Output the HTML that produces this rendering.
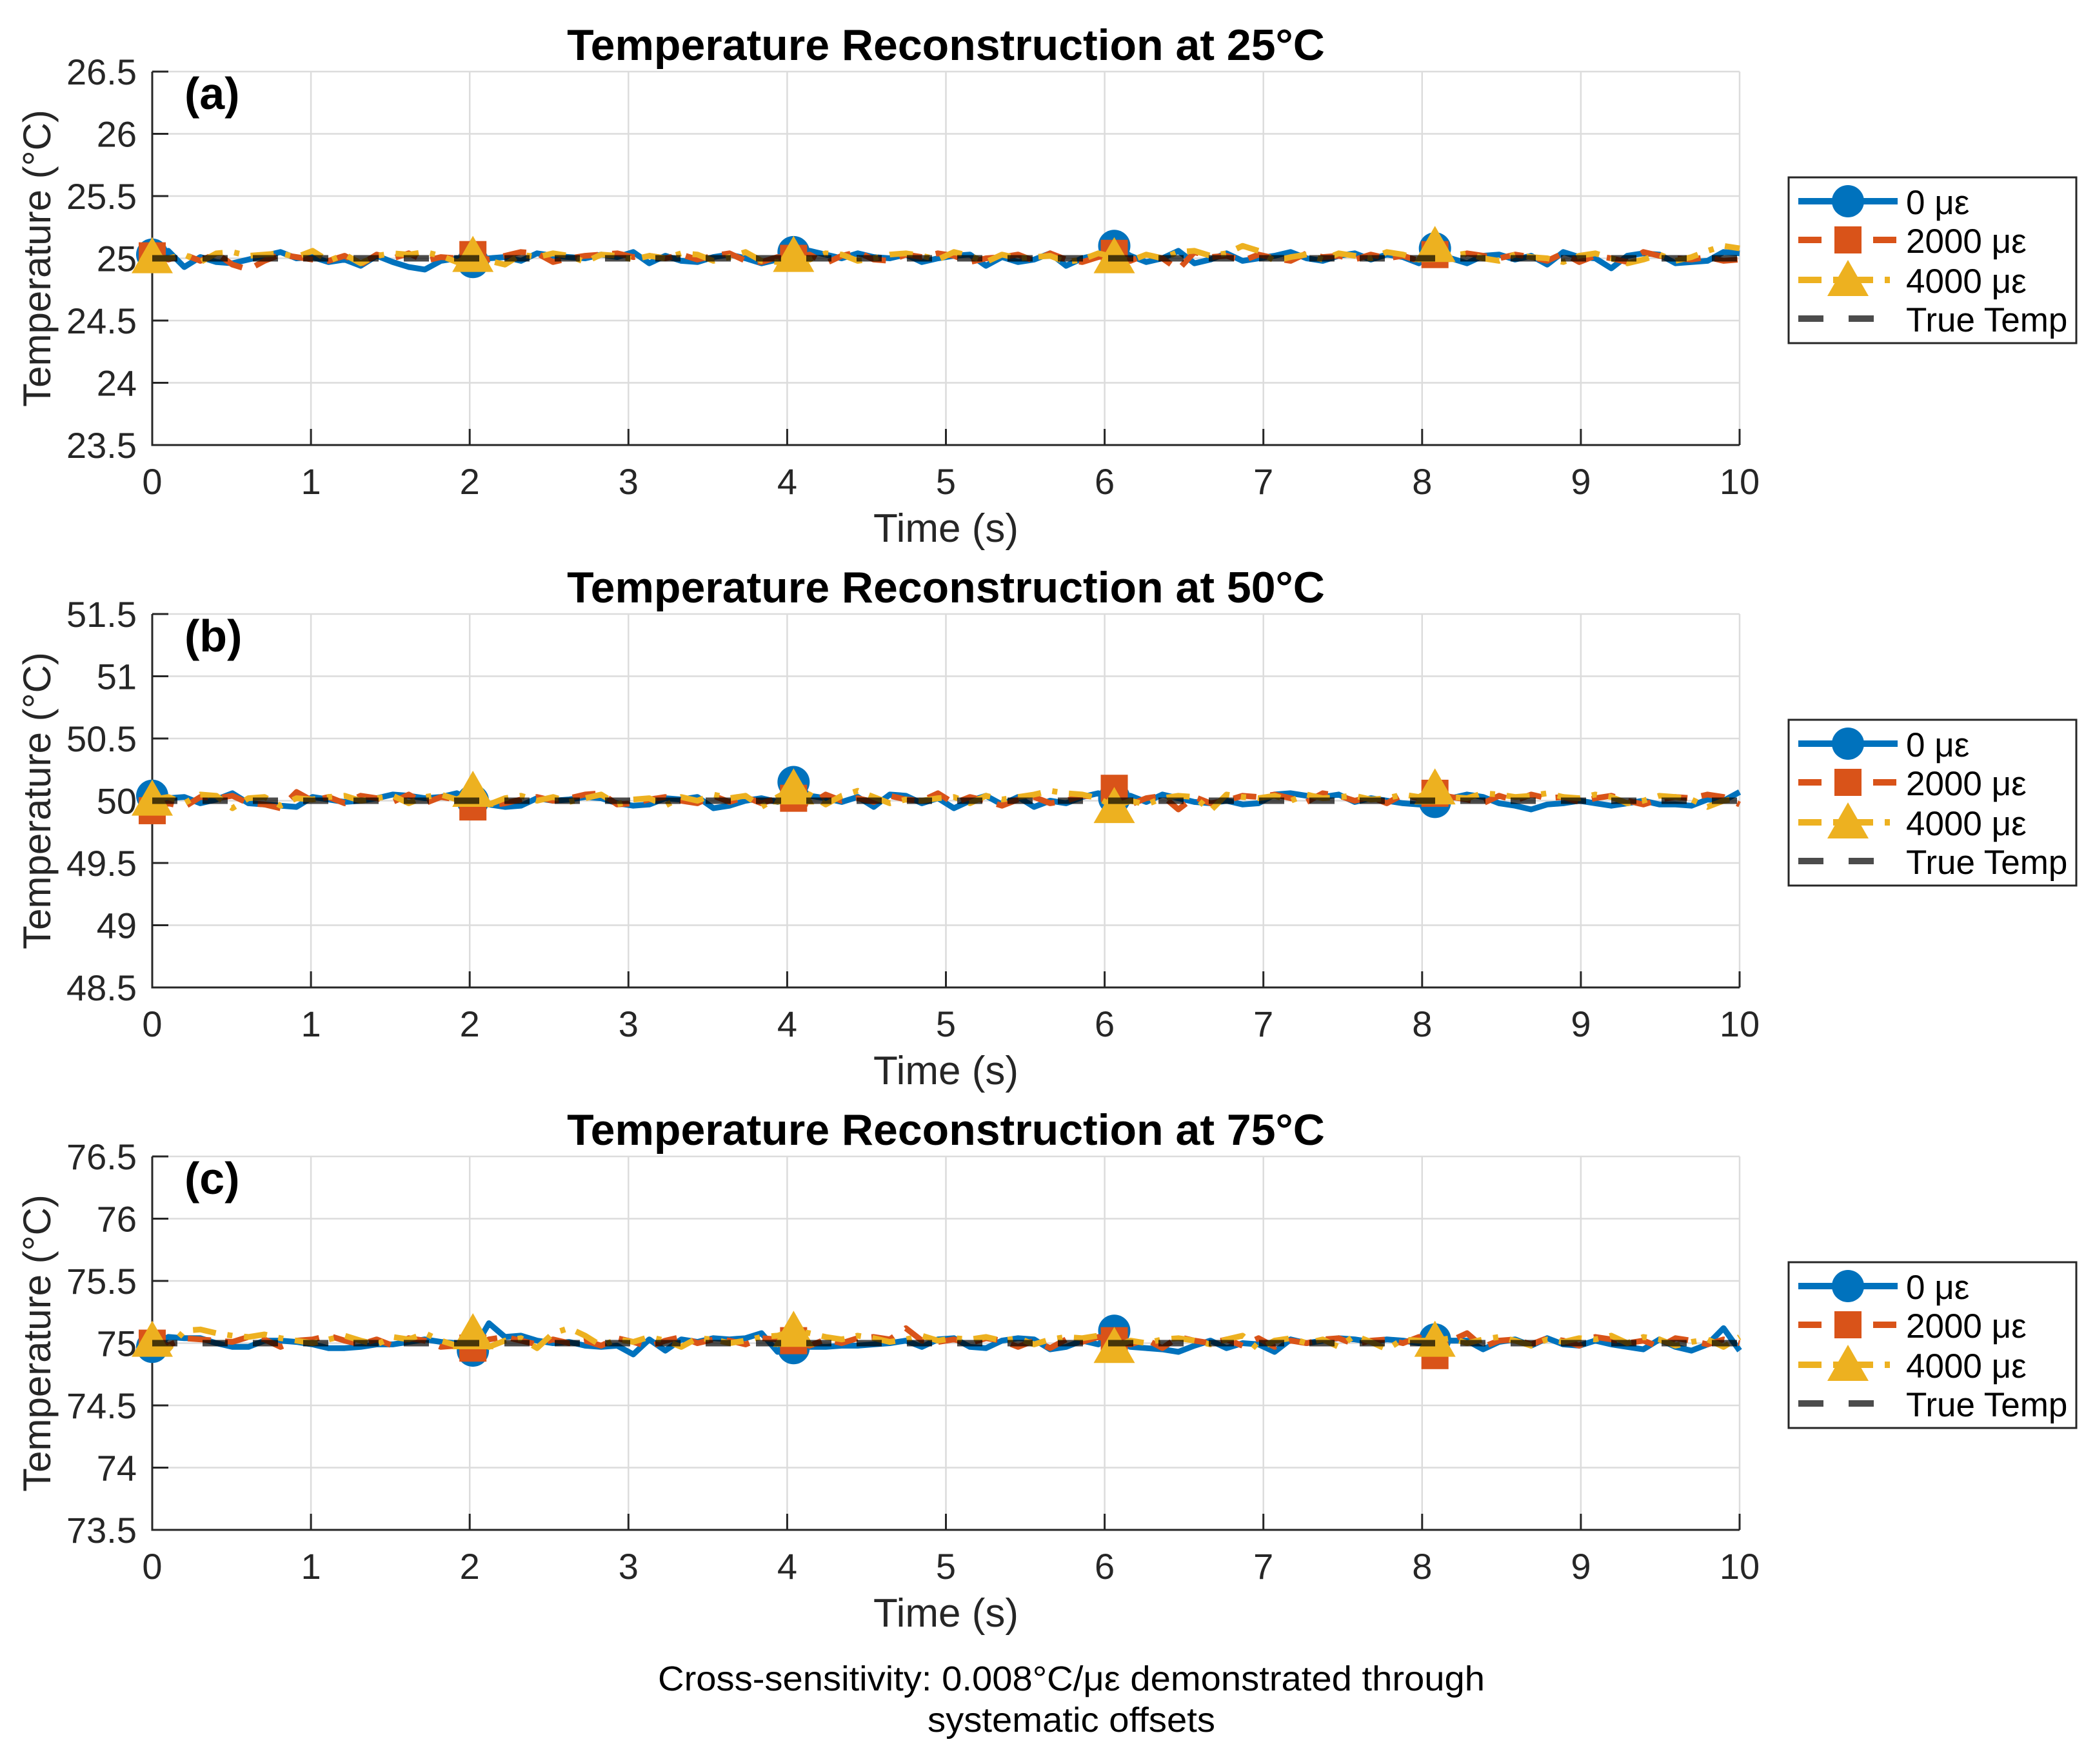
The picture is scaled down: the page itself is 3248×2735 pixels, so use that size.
<!DOCTYPE html>
<html><head><meta charset="utf-8">
<style>
html,body{margin:0;padding:0;background:#fff;}
svg{display:block;}
text{font-family:"Liberation Sans",Arial,sans-serif;}
</style></head>
<body>
<svg id="chart" width="3248" height="2735" viewBox="0 0 3248 2735" xmlns="http://www.w3.org/2000/svg">
<rect width="3248" height="2735" fill="#fff"/>
<text x="1661" y="2621" font-size="54" text-anchor="middle" fill="#000" textLength="1282" lengthAdjust="spacingAndGlyphs">Cross-sensitivity: 0.008°C/με demonstrated through</text>
<text x="1661" y="2685" font-size="54" text-anchor="middle" fill="#000" textLength="446" lengthAdjust="spacingAndGlyphs">systematic offsets</text>
</svg>
<script>
// ---- data ----
const timeStart = 0, timeEnd = 10, nPoints = 100;
const trueTemps = [25, 50, 75];
const panelLetters = ['(a)', '(b)', '(c)'];
const seriesNames = ['0 με', '2000 με', '4000 με'];
const xTicks = [0,1,2,3,4,5,6,7,8,9,10];
const yTickOffsets = [-1.5,-1,-0.5,0,0.5,1,1.5];
// measurement error vs true temperature, in hundredths of °C
const errA0 = [3,6,-7,1,-3,-4,-1,2,5,0, 1,-3,-1,-6,2,-3,-7,-9,-2,0, -3,0,1,-2,4,2,1,0,3,1, 5,-4,2,-2,-3,1,3,0,-4,-1, 5,6,3,0,4,1,0,3,-3,0, 2,3,-6,1,-3,-1,4,-6,0,3, 10,2,-3,0,6,-4,-1,4,-2,0, 2,5,0,-2,2,4,-1,3,1,-4, 8,0,-4,2,3,-1,2,-5,5,1, 0,-8,2,4,3,-4,-3,-2,5,4];
const errA1 = [2,-1,3,-2,4,-5,-9,-2,3,1, -1,-2,2,-5,3,0,4,-2,1,0, 3,-1,2,5,4,-3,0,2,3,4, 1,2,0,3,-1,2,4,-2,-3,1, 0,3,-4,2,5,-1,-2,3,1,4, 2,-3,0,1,3,-2,4,-1,-3,1, 4,-2,3,0,-9,5,1,2,-2,3, 0,-2,4,1,2,-1,3,0,2,-2, 3,-1,4,2,0,3,1,-2,4,-3, 2,0,-3,5,2,0,-1,1,-2,-1];
const errA2 = [1,0,3,-3,4,5,2,3,4,1, 6,-2,3,-4,2,4,3,5,2,-3, 2,-2,-5,3,1,4,2,-3,3,2, -1,2,0,4,3,-2,1,5,-2,-3, 2,-1,4,3,-2,0,3,4,2,-1, 5,2,-3,3,0,1,2,-3,-1,4, 1,-2,3,0,5,6,2,4,10,6, -2,1,3,-1,4,2,0,5,3,-1, 10,2,4,0,-2,3,1,0,-3,2, 4,0,-4,-1,3,-2,1,6,10,8];
const errB0 = [4,2,3,-2,1,6,-2,-3,-4,-5, 3,1,-1,0,2,5,4,2,3,6, 0,-3,-5,-4,2,0,1,3,2,-2, -4,-3,2,1,3,-6,-4,0,2,-1, 15,4,2,-1,3,-5,5,4,-2,2, -6,0,4,-3,3,-5,0,-2,3,6, 2,4,-1,5,2,-1,-2,0,-3,-2, 5,6,4,3,5,-1,2,0,-2,-3, -1,2,5,3,-2,-4,-7,-3,-2,0, -2,-4,-2,0,-3,-3,-4,1,0,7];
const errB1 = [-8,-2,-5,3,2,4,-2,-3,-6,7, 0,3,-2,4,2,-1,5,-2,3,1, -5,-4,-2,1,3,0,2,5,6,-3, -2,1,3,0,-2,4,-1,3,-2,2, 2,-3,5,0,2,-1,4,1,0,6, -2,3,0,-4,1,3,-2,0,4,3, 10,-3,2,4,-7,3,-2,0,4,3, 5,2,-1,6,4,0,3,-2,5,2, 6,3,1,-2,4,0,5,2,3,-1, 2,4,0,-3,1,3,2,5,3,-3];
const errB2 = [1,3,-2,5,4,-6,2,3,-4,2, 1,3,4,0,2,4,-2,3,5,1, 8,-3,2,4,0,3,-1,2,5,-3, 1,2,-4,3,0,5,2,4,-5,3, 10,5,-3,4,8,3,-2,1,0,2, 3,-2,4,1,3,5,8,6,5,2, -5,0,-3,2,4,3,-8,5,3,2, 4,0,5,2,3,4,1,2,5,3, 10,3,2,6,5,3,4,6,3,2, 5,3,-2,0,4,3,1,-5,0,2];
const errC0 = [-3,5,4,4,0,-3,-3,2,2,1, -1,-4,-4,-3,-1,-1,1,3,1,0, -6,16,5,6,2,0,1,-2,-3,-2, -9,3,-6,3,1,4,3,4,8,-7, -4,-3,-3,-2,-2,-1,0,2,-3,3, 4,-3,-4,2,4,3,-5,-3,2,-1, 10,-3,-4,-5,-7,-2,2,-4,0,-1, -7,3,0,2,4,3,1,3,2,0, 3,2,2,-5,1,3,-2,4,-1,-2, 2,-1,-3,-5,3,-3,-6,-1,12,-6];
const errC1 = [0,-2,4,3,2,1,5,3,-3,2, 3,6,2,-1,3,-2,4,2,-3,-2, -4,3,5,2,-1,3,0,2,-2,4, 1,-3,2,5,0,3,2,-1,4,3, 2,-2,3,0,4,5,3,12,2,1, 3,0,4,2,-3,2,-4,3,1,5, 2,-1,3,-4,5,2,0,3,-2,4, -3,2,0,3,4,-1,2,3,0,5, -10,2,8,-3,2,3,-1,4,2,-2, 5,3,0,2,-3,4,2,-1,3,0];
const errC2 = [2,-5,10,11,8,6,5,7,4,2, 0,3,6,2,-1,5,3,8,2,-2, 8,-3,2,4,-4,8,12,6,-2,3, 1,5,2,-3,4,3,0,2,5,6, 10,8,5,3,6,4,1,3,6,2, 4,3,5,2,4,-1,3,5,4,6, -3,2,0,3,4,2,-1,3,6,-5, 2,4,0,3,-3,6,1,-5,3,2, 2,4,0,3,5,2,-2,3,1,4, 3,6,0,5,3,-2,1,3,-3,5];
const panelErrors = [[errA0,errA1,errA2],[errB0,errB1,errB2],[errC0,errC1,errC2]];

// ---- layout ----
const NS = 'http://www.w3.org/2000/svg';
const svg = document.getElementById('chart');
const X0 = 236, X1 = 2697, PH = 579;
const panelTops = [111, 952, 1793];
const colors = ['#0072BD', '#D95319', '#EDB120'];
const dashes = ['none', '36 22', '36 18 8 18'];
const TXT = '#262626';
function mk(tag, attrs, parent){ const e=document.createElementNS(NS,tag); for(const k in attrs) e.setAttribute(k,attrs[k]); (parent||svg).appendChild(e); return e; }
function xScale(t){ return X0 + (t - timeStart)/(timeEnd-timeStart)*(X1-X0); }
function marker(g, k, cx, cy, c){
  let m;
  if(k===0) m = mk('circle',{cx:cx,cy:cy,r:25,fill:c},g);
  else if(k===1) m = mk('rect',{x:cx-21,y:cy-21,width:42,height:42,fill:c},g);
  else m = mk('polygon',{points:`${cx},${cy-31} ${cx+32},${cy+25} ${cx-32},${cy+25}`,fill:c},g);
  return m;
}

panelTops.forEach((top, p) => {
  const base = trueTemps[p];
  const yMin = base-1.5, yMax = base+1.5;
  const yScale = v => top + (yMax - v)/(yMax-yMin)*PH;
  const bottom = top + PH;
  const g = mk('g',{});
  
  
  xTicks.forEach(t => {
    const l = mk('line',{x1:xScale(t),x2:xScale(t),y1:top,y2:bottom,stroke:'#dcdcdc','stroke-width':2.5},g);
    
    
  });
  yTickOffsets.forEach(o => {
    const l = mk('line',{x1:X0,x2:X1,y1:yScale(base+o),y2:yScale(base+o),stroke:'#dcdcdc','stroke-width':2.5},g);
    
    
  });
  const ax = mk('path',{d:`M${X0},${top} V${bottom} H${X1}`,fill:'none',stroke:TXT,'stroke-width':3},g);
  
  
  xTicks.forEach(t => {
    mk('line',{x1:xScale(t),x2:xScale(t),y1:bottom,y2:bottom-25,stroke:TXT,'stroke-width':3},g);
    const tx = mk('text',{x:xScale(t),y:bottom+76,'font-size':56,'text-anchor':'middle',fill:TXT},g);
    tx.textContent = t;
    
    
  });
  yTickOffsets.forEach(o => {
    const v = base+o;
    mk('line',{x1:X0,x2:X0+25,y1:yScale(v),y2:yScale(v),stroke:TXT,'stroke-width':3},g);
    const tx = mk('text',{x:212,y:yScale(v)+20,'font-size':56,'text-anchor':'end',fill:TXT},g);
    tx.textContent = String(v);
    
    
  });
  const n = nPoints;
  const times = [];
  for(let i=0;i<n;i++) times.push(timeStart + i*(timeEnd-timeStart)/(n-1));
  panelErrors[p].forEach((err, k) => {
    const pts = err.map((e,i)=> `${xScale(times[i]).toFixed(1)},${yScale(base + e/100).toFixed(1)}`).join(' ');
    const pl = mk('polyline',{points:pts,fill:'none',stroke:colors[k],'stroke-width':9,'stroke-linejoin':'round','stroke-dasharray':dashes[k]},g);
    
    
    for(let i=0;i<n;i+=20){
      const m = marker(g,k,xScale(times[i]),yScale(base+err[i]/100),colors[k]);
      
      
    }
  });
  const tl = mk('line',{x1:X0,x2:X1,y1:yScale(base),y2:yScale(base),stroke:'#000','stroke-opacity':0.7,'stroke-width':10,'stroke-dasharray':'39 39'},g);
  
  
  const title = mk('text',{x:(X0+X1)/2,y:top-18,'font-size':68,'font-weight':'bold','text-anchor':'middle',fill:'#000'},g);
  title.textContent = `Temperature Reconstruction at ${base}°C`;
  
  
  const lt = mk('text',{x:286,y:top+58,'font-size':70,'font-weight':'bold',fill:'#000'},g);
  lt.textContent = panelLetters[p];
  
  
  const xl = mk('text',{x:(X0+X1)/2,y:bottom+150,'font-size':62,'text-anchor':'middle',fill:TXT},g);
  xl.textContent = 'Time (s)';
  
  
  const yl = mk('text',{x:0,y:0,'font-size':60,'text-anchor':'middle',fill:TXT,transform:`translate(78,${top+PH/2}) rotate(-90)`},g);
  yl.textContent = 'Temperature (°C)';
  
  
  const LT = 275 + (top-111);
  const lg = mk('g',{},g);
  
  
  mk('rect',{x:2773,y:LT,width:446,height:257,fill:'#fff',stroke:TXT,'stroke-width':3},lg);
  const rowY = [37,97,159,219];
  seriesNames.concat(['True Temp']).forEach((nm,k)=>{
    const y = LT + rowY[k];
    const e = mk('g',{},lg);
    
    
    if(k<3){
      mk('line',{x1:2788,x2:2942,y1:y,y2:y,stroke:colors[k],'stroke-width':10,'stroke-dasharray':dashes[k]},e);
      marker(e,k,2865,y,colors[k]);
    } else {
      mk('line',{x1:2788,x2:2942,y1:y,y2:y,stroke:'#000','stroke-opacity':0.7,'stroke-width':10,'stroke-dasharray':'39 39'},e);
    }
    const t = mk('text',{x:2955,y:y+20,'font-size':53,fill:'#000'},e);
    t.textContent = nm;
  });
});
</script>
</body></html>
